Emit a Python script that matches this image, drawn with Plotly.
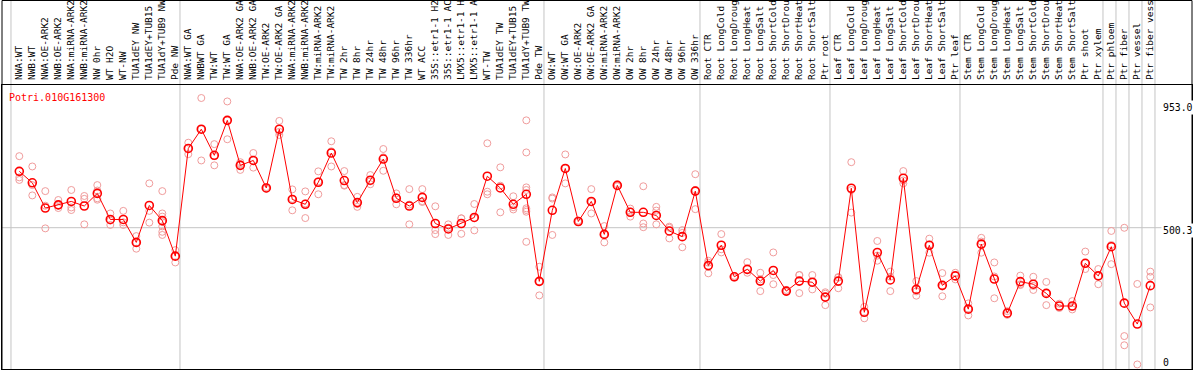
import plotly.graph_objects as go

# ---------------- data ----------------
gene_id = "Potri.010G161300"

categories = [
    "NWA:WT", "NWB:WT", "NWA:OE-ARK2", "NWB:OE-ARK2", "NWA:miRNA-ARK2", "NWB:miRNA-ARK2",
    "NW 0hr", "WT H2O", "WT-NW", "TUA1dEY NW", "TUA1dEY+TUB15", "TUA1dY+TUB9 NW", "Pde NW",
    "NWA:WT GA", "NWBWT GA", "TW:WT", "TW:WT GA", "NWA:OE-ARK2 GA", "NWB:OE-ARK2 GA",
    "TW:OE-ARK2", "TW:OE-ARK2 GA", "NWA:miRNA-ARK2", "NWB:miRNA-ARK2", "TW:miRNA-ARK2",
    "TW:miRNA-ARK2", "TW 2hr", "TW 8hr", "TW 24hr", "TW 48hr", "TW 96hr", "TW 336hr",
    "WT ACC", "35S::etr1-1 H2", "35S::etr1-1 AC", "LMX5::etr1-1 H", "LMX5::etr1-1 A",
    "WT-TW", "TUA1dEY TW", "TUA1dEY+TUB15", "TUA1dY+TUB9 TW", "Pde TW",
    "OW:WT", "OW:WT GA", "OW:OE-ARK2", "OW:OE-ARK2 GA", "OW:miRNA-ARK2", "OW:miRNA-ARK2",
    "OW 2hr", "OW 8hr", "OW 24hr", "OW 48hr", "OW 96hr", "OW 336hr",
    "Root CTR", "Root LongCold", "Root LongDroug", "Root LongHeat", "Root LongSalt",
    "Root ShortCold", "Root ShortDrou", "Root ShortHeat", "Root ShortSalt", "Ptr root",
    "Leaf CTR", "Leaf LongCold", "Leaf LongDroug", "Leaf LongHeat", "Leaf LongSalt",
    "Leaf ShortCold", "Leaf ShortDrou", "Leaf ShortHeat", "Leaf ShortSalt", "Ptr leaf",
    "Stem CTR", "Stem LongCold", "Stem LongDroug", "Stem LongHeat", "Stem LongSalt",
    "Stem ShortCold", "Stem ShortDrou", "Stem ShortHeat", "Stem ShortSalt", "Ptr shoot",
    "Ptr xylem", "Ptr phloem", "Ptr fiber", "Ptr vessel", "Ptr fiber vess",
]

means = [
    697, 657, 569, 580, 592, 576, 620, 529, 529, 449, 578, 525, 401,
    777, 844, 753, 875, 718, 735, 639, 844, 599, 582, 659, 761, 665, 588, 666, 740, 603,
    576, 606, 515, 496, 515, 536, 680, 639, 582, 617, 313,
    561, 707, 522, 592, 477, 648, 554, 554, 543, 489, 469, 628,
    368, 439, 329, 355, 314, 351, 279, 314, 310, 258,
    314, 638, 205, 414, 318, 673, 285, 439, 299, 332,
    216, 443, 321, 202, 312, 303, 271, 227, 227, 376, 332,
    434, 237, 164, 298,
]

replicates = [
    [750, 676, 667], [714, 649, 613], [628, 577, 498], [597, 578, 569], [632, 571, 562],
    [611, 601, 512], [649, 630, 603, 598], [550, 525, 510], [559, 519, 510], [471, 449, 427],
    [655, 559, 518], [628, 550, 539, 520, 505, 486, 475], [422, 401, 379],
    [797, 777, 757], [953, 844, 735], [792, 750, 718], [941, 875, 809], [729, 722, 702],
    [761, 735, 710], [642, 636], [873, 835, 824], [634, 601, 561], [627, 585, 534],
    [697, 662, 617], [802, 767, 714], [698, 649, 647], [608, 583, 573], [684, 662, 652],
    [775, 746, 699], [620, 606, 582], [635, 581, 512], [635, 590, 593], [575, 492, 478],
    [512, 500, 475], [533, 533, 479], [583, 534, 491], [795, 626, 617], [711, 647, 554],
    [610, 572, 564], [875, 763, 641, 632, 568, 562, 556, 451], [364, 313, 264],
    [606, 602, 475], [756, 707, 655], [525, 520], [635, 590, 550], [506, 477, 449],
    [652, 645], [567, 556, 539], [645, 515, 502], [573, 560, 512], [504, 500, 463],
    [492, 482, 432], [687, 632, 565],
    [385, 378, 341], [478, 425, 414], [332, 326], [380, 343], [343, 320, 279],
    [414, 335, 303], [283, 276], [335, 335, 272], [335, 310, 285], [275, 270, 230],
    [326, 328, 289], [729, 632, 553], [224, 205, 184], [454, 403, 385], [347, 329, 279],
    [698, 665, 655], [314, 278, 263], [462, 441, 413], [342, 295, 261], [343, 320],
    [236, 218, 194], [465, 452, 413], [379, 330, 254], [209, 196], [333, 303, 300],
    [329, 297, 283], [311, 273, 230], [235, 220], [244, 225, 215], [417, 376, 356],
    [356, 332, 303], [489, 440, 373], [500, 122, 90], [304, 23], [347, 329, 222],
]

# index of last category before each grey separator
group_breaks = [-1, 12, 40, 52, 62, 72, 83, 84, 85, 86, 87]

y_label_text = ["953.0", "500.3", "0"]
y_label_values = [953.0, 500.3, 0.0]
mid_value = 500.3

# ---------------- layout constants ----------------
W, H = 1194, 370
ML, MR, MT, MB = 2, 2, 85, 1
PLOT_W = W - ML - MR
PLOT_H = H - MT - MB
X_RANGE = [-1.3308, -1.3308 + PLOT_W / 13.0]
Y_RANGE = [7.1, 998.4]
TOP_PAPER = (H - MB - 0.5) / PLOT_H  # paper y of the picture's top edge

MONO = "DejaVu Sans Mono"
REP_COLOR = "#F09C9C"

idx = list(range(len(categories)))
rep_x = [i for i, reps in zip(idx, replicates) for _ in reps]
rep_y = [v for reps in replicates for v in reps]

fig = go.Figure()
fig.add_trace(go.Scatter(
    x=rep_x, y=rep_y, mode="markers",
    marker=dict(symbol="circle-open", size=7, color=REP_COLOR, line=dict(width=1, color=REP_COLOR)),
    hoverinfo="skip", showlegend=False, cliponaxis=False,
))
fig.add_trace(go.Scatter(
    x=idx, y=means, mode="lines+markers",
    line=dict(color="#FF0000", width=1),
    marker=dict(symbol="circle-open", size=8, color="#FF0000", line=dict(width=1.6, color="#FF0000")),
    showlegend=False, cliponaxis=False,
))

shapes = []
for b in group_breaks:
    shapes.append(dict(type="line", xref="x", yref="paper", x0=b + 0.36, x1=b + 0.36,
                       y0=0, y1=TOP_PAPER, line=dict(color="#C4C4C4", width=1), layer="below"))
shapes.append(dict(type="line", xref="paper", yref="y", x0=0, x1=1, y0=mid_value, y1=mid_value,
                   line=dict(color="#C4C4C4", width=1), layer="below"))
# outer black frame reaching into the label band
shapes.append(dict(type="line", xref="paper", yref="paper", x0=0, x1=0, y0=0, y1=TOP_PAPER,
                   line=dict(color="black", width=1)))
shapes.append(dict(type="line", xref="paper", yref="paper", x0=1, x1=1, y0=0, y1=TOP_PAPER,
                   line=dict(color="black", width=1)))
shapes.append(dict(type="line", xref="paper", yref="paper", x0=0, x1=1, y0=TOP_PAPER, y1=TOP_PAPER,
                   line=dict(color="black", width=1)))

annotations = [dict(
    text=gene_id, xref="paper", yref="paper", x=0.004, y=1, xanchor="left", yanchor="middle",
    yshift=-12, showarrow=False, font=dict(family=MONO, size=10, color="#FF0000"),
)]
label_x = (1161 - ML) / PLOT_W
shifts = [-9.7, -2.3]
for txt, val, sh in zip(y_label_text[:2], y_label_values[:2], shifts):
    annotations.append(dict(text=txt, xref="paper", yref="y", x=label_x, y=val, xanchor="left",
                            yanchor="middle", yshift=sh, showarrow=False, bgcolor="white",
                            font=dict(family=MONO, size=9.8, color="black")))
annotations.append(dict(text=y_label_text[2], xref="paper", yref="paper", x=label_x, y=0,
                        xanchor="left", yanchor="middle", yshift=6.3, showarrow=False,
                        font=dict(family=MONO, size=9.8, color="black")))

fig.update_layout(
    width=W, height=H, margin=dict(l=ML, r=MR, t=MT, b=MB, pad=0),
    paper_bgcolor="white", plot_bgcolor="white",
    shapes=shapes, annotations=annotations, showlegend=False,
    xaxis=dict(range=X_RANGE, tickmode="array", tickvals=idx, ticktext=categories,
               side="top", tickangle=-90, ticks="", showgrid=False, zeroline=False,
               showline=True, mirror=True, linecolor="black", linewidth=1,
               ticklabelstandoff=2,
               tickfont=dict(family=MONO, size=9.5, color="black"), automargin=False,
               fixedrange=True),
    yaxis=dict(range=Y_RANGE, showticklabels=False, ticks="", showgrid=False, zeroline=False,
               showline=True, mirror=True, linecolor="black", linewidth=1, automargin=False,
               fixedrange=True),
)

fig.write_html(
    "out.html",
    config={"displayModeBar": False},
    post_script="document.body.style.margin='0';document.body.style.overflow='hidden';",
)
